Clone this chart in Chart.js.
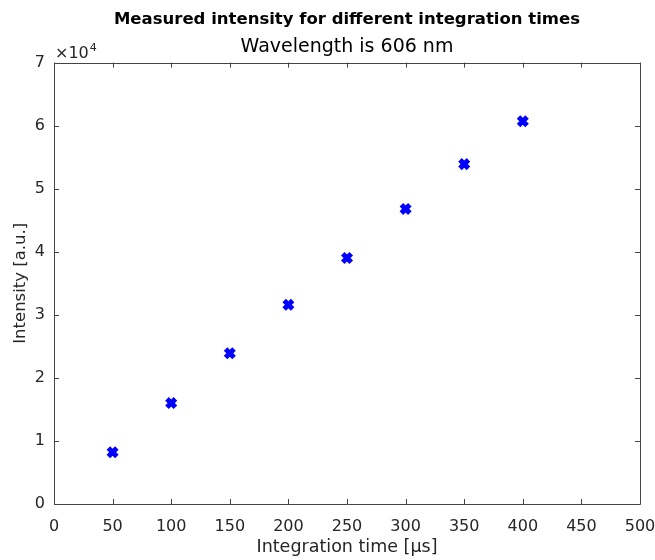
<!DOCTYPE html>
<html>
<head>
<meta charset="utf-8">
<script src="https://cdn.jsdelivr.net/npm/chart.js@4/dist/chart.umd.min.js"></script>
<style>
  html, body { margin: 0; padding: 0; background: #fff; }
  #wrap { width: 655px; height: 560px; }
</style>
</head>
<body>
<div id="wrap"><canvas id="chart" width="655" height="560"></canvas></div>
<script>
const integrationTimes = [50, 100, 150, 200, 250, 300, 350, 400];
const intensities = [8200, 16000, 23900, 31600, 39000, 46800, 53900, 60700];
const xTicks = [0, 50, 100, 150, 200, 250, 300, 350, 400, 450, 500];
const yTicks = [0, 10000, 20000, 30000, 40000, 50000, 60000, 70000];

const ink = '#262626';
const fontFamily = '"DejaVu Sans", "Liberation Sans", Arial, sans-serif';

// MATLAB style box with inward ticks on all four sides, plus the x10^4 label
const matlabBox = {
    id: 'matlabBox',
    afterDraw(chart) {
        const ctx = chart.ctx;
        const area = chart.chartArea;
        const xs = chart.scales.x;
        const ys = chart.scales.y;
        const len = 5;
        ctx.save();
        ctx.strokeStyle = '#444';
        ctx.lineWidth = 1;
        ctx.beginPath();
        ctx.rect(Math.round(area.left) + 0.5, Math.round(area.top) + 0.5,
            Math.round(area.right - area.left), Math.round(area.bottom - area.top));
        xTicks.forEach(v => {
            const px = Math.round(xs.getPixelForValue(v)) + 0.5;
            ctx.moveTo(px, area.bottom);
            ctx.lineTo(px, area.bottom - len);
            ctx.moveTo(px, area.top);
            ctx.lineTo(px, area.top + len);
        });
        yTicks.forEach(v => {
            const py = Math.round(ys.getPixelForValue(v)) + 0.5;
            ctx.moveTo(area.left, py);
            ctx.lineTo(area.left + len, py);
            ctx.moveTo(area.right, py);
            ctx.lineTo(area.right - len, py);
        });
        ctx.stroke();

        ctx.fillStyle = ink;
        ctx.textBaseline = 'alphabetic';
        ctx.textAlign = 'left';
        ctx.font = '16px ' + fontFamily;
        const ex = area.left + 1;
        const ey = area.top - 5;
        ctx.fillText('\u00d710', ex, ey);
        const w = ctx.measureText('\u00d710').width;
        ctx.font = '11px ' + fontFamily;
        ctx.fillText('4', ex + w + 1, ey - 7);
        ctx.restore();
    }
};

new Chart(document.getElementById('chart'), {
    type: 'scatter',
    data: {
        datasets: [{
            data: integrationTimes.map((t, i) => ({ x: t, y: intensities[i] })),
            pointStyle: 'crossRot',
            pointRadius: 6,
            pointHoverRadius: 6,
            borderWidth: 5,
            borderColor: '#0000ff',
            backgroundColor: '#0000ff'
        }]
    },
    options: {
        responsive: false,
        animation: false,
        layout: { padding: { top: 0, right: 15, bottom: 0, left: 0 } },
        plugins: {
            legend: { display: false },
            tooltip: { enabled: false },
            title: {
                display: true,
                text: 'Measured intensity for different integration times',
                color: '#000',
                fullSize: false,
                font: { family: fontFamily, size: 16.5, weight: 'bold' },
                padding: { top: 10, bottom: 6 }
            },
            subtitle: {
                display: true,
                text: 'Wavelength is 606 nm',
                color: '#000',
                fullSize: false,
                font: { family: fontFamily, size: 19 },
                padding: { top: 0, bottom: 4 }
            }
        },
        scales: {
            x: {
                type: 'linear',
                min: 0,
                max: 500,
                afterBuildTicks: s => { s.ticks = xTicks.map(v => ({ value: v })); },
                afterFit: s => { s.height = 56; s.paddingLeft = 0; s.paddingRight = 0; },
                grid: { display: false, drawTicks: false },
                border: { display: false },
                ticks: { color: ink, padding: 13, font: { family: fontFamily, size: 16 } },
                title: {
                    display: true,
                    text: 'Integration time [\u03bcs]',
                    color: ink,
                    font: { family: fontFamily, size: 17.5 },
                    padding: { top: 0, bottom: 2 }
                }
            },
            y: {
                type: 'linear',
                min: 0,
                max: 70000,
                afterBuildTicks: s => { s.ticks = yTicks.map(v => ({ value: v })); },
                afterFit: s => { s.width = 54; s.paddingTop = 0; s.paddingBottom = 0; },
                grid: { display: false, drawTicks: false },
                border: { display: false },
                ticks: {
                    color: ink,
                    padding: 9,
                    font: { family: fontFamily, size: 16 },
                    callback: v => String(v / 10000)
                },
                title: {
                    display: true,
                    text: 'Intensity [a.u.]',
                    color: ink,
                    font: { family: fontFamily, size: 16.5 },
                    padding: { top: 11, bottom: 0 }
                }
            }
        }
    },
    plugins: [matlabBox]
});
</script>
</body>
</html>
